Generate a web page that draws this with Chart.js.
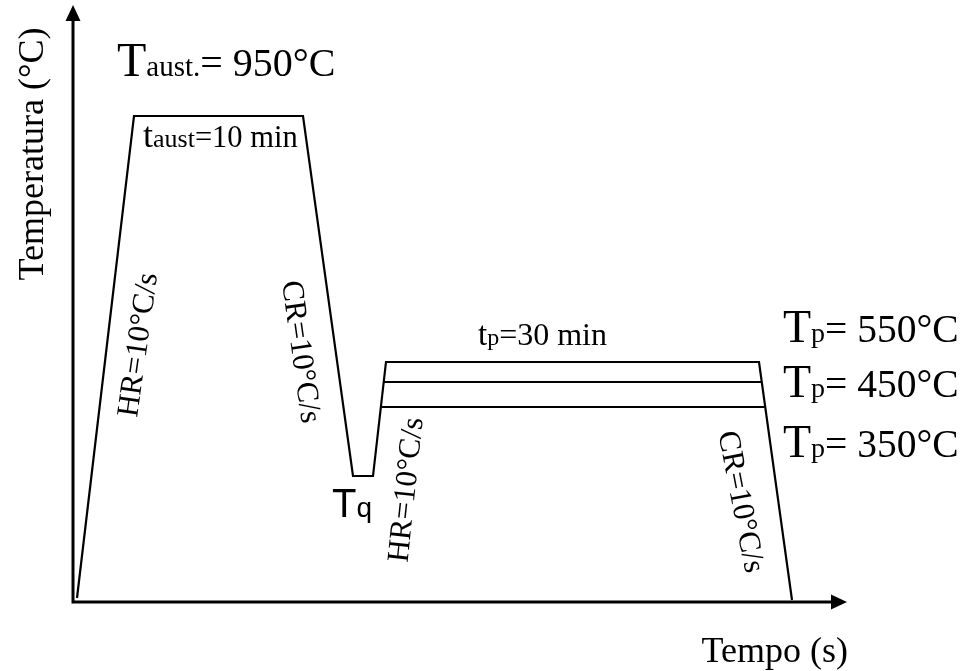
<!DOCTYPE html>
<html>
<head>
<meta charset="utf-8">
<script src="https://cdn.jsdelivr.net/npm/chart.js@4"></script>
<style>
  html, body { margin: 0; padding: 0; background: #fff; }
  canvas { display: block; }
</style>
</head>
<body>
<canvas id="chart" width="966" height="671"></canvas>
<script>
// schematic units: time and temperature positions on the sketch (no real scale)
const profileTime = [4, 61, 230, 280, 300, 313, 686, 719];
const profileTemp = [4, 486, 486, 126, 126, 240, 240, 2];
const hold450Time = [311, 689];
const hold450Temp = [220, 220];
const hold350Time = [308, 692];
const hold350Temp = [195, 195];

const axisMax = { x: 774, y: 597 };

const serif = "'Liberation Serif', 'Times New Roman', serif";
const sans = "'Liberation Sans', Arial, sans-serif";

// text pieces: [text, size]
const flatLabels = [
    { x: 44, y: 526, font: serif, runs: [["T", 48], ["aust.", 29], ["= 950°C", 40]] },
    { x: 70, y: 455, font: serif, runs: [["t", 36], ["aust", 26], ["=10 min", 30.5]] },
    { x: 405, y: 257, font: serif, runs: [["t", 33], ["p", 24], ["=30 min", 32]] },
    { x: 710, y: 260, font: serif, runs: [["T", 46], ["p", 28], ["= 550°C", 39.5]] },
    { x: 710, y: 205, font: serif, runs: [["T", 46], ["p", 28], ["= 450°C", 39.5]] },
    { x: 710, y: 145, font: serif, runs: [["T", 46], ["p", 28], ["= 350°C", 39.5]] },
    { x: 259, y: 85, font: sans, runs: [["T", 40], ["q", 28]] },
];

const rateLabels = [
    { x: 66, y: 257, angle: -82, text: "HR=10°C/s" },
    { x: 227, y: 250, angle: 82, text: "CR=10°C/s" },
    { x: 334, y: 112, angle: -84, text: "HR=10°C/s" },
    { x: 667, y: 100, angle: 79, text: "CR=10°C/s" },
];

function toPoints(xs, ys) {
    return xs.map((x, i) => ({ x: x, y: ys[i] }));
}

const sketchPlugin = {
    id: "sketch",
    afterDraw(chart) {
        const ctx = chart.ctx;
        const xs = chart.scales.x;
        const ys = chart.scales.y;
        const x0 = xs.getPixelForValue(0);
        const y0 = ys.getPixelForValue(0);
        const xEnd = xs.getPixelForValue(axisMax.x);
        const yEnd = ys.getPixelForValue(axisMax.y);

        ctx.save();
        ctx.fillStyle = "#000";
        ctx.strokeStyle = "#000";
        ctx.lineWidth = 3;

        // axes with arrow heads
        ctx.beginPath();
        ctx.moveTo(x0, y0);
        ctx.lineTo(xEnd - 12, y0);
        ctx.moveTo(x0, y0 + 1.5);
        ctx.lineTo(x0, yEnd + 12);
        ctx.stroke();

        ctx.beginPath();
        ctx.moveTo(xEnd, y0);
        ctx.lineTo(xEnd - 16, y0 - 7.5);
        ctx.lineTo(xEnd - 16, y0 + 7.5);
        ctx.closePath();
        ctx.fill();

        ctx.beginPath();
        ctx.moveTo(x0, yEnd);
        ctx.lineTo(x0 - 7.5, yEnd + 16);
        ctx.lineTo(x0 + 7.5, yEnd + 16);
        ctx.closePath();
        ctx.fill();

        // labels with subscripts
        ctx.textBaseline = "alphabetic";
        ctx.textAlign = "left";
        flatLabels.forEach(l => {
            let px = xs.getPixelForValue(l.x);
            const py = ys.getPixelForValue(l.y);
            l.runs.forEach(r => {
                ctx.font = r[1] + "px " + l.font;
                ctx.fillText(r[0], px, py);
                px += ctx.measureText(r[0]).width;
            });
        });

        // rates along the ramps
        ctx.font = "31px " + serif;
        ctx.textAlign = "center";
        ctx.textBaseline = "middle";
        rateLabels.forEach(l => {
            ctx.save();
            ctx.translate(xs.getPixelForValue(l.x), ys.getPixelForValue(l.y));
            ctx.rotate(l.angle * Math.PI / 180);
            ctx.fillText(l.text, 0, 0);
            ctx.restore();
        });

        // axis titles
        ctx.font = "36px " + serif;
        ctx.save();
        ctx.translate(x0 - 40, ys.getPixelForValue(448));
        ctx.rotate(-Math.PI / 2);
        ctx.textAlign = "center";
        ctx.textBaseline = "alphabetic";
        ctx.fillText("Temperatura (°C)", 0, 10);
        ctx.restore();

        ctx.textAlign = "right";
        ctx.textBaseline = "alphabetic";
        ctx.fillText("Tempo (s)", xEnd + 1, y0 + 60);

        ctx.restore();
    }
};

const lineStyle = {
    borderColor: "#000",
    borderWidth: 2.2,
    pointRadius: 0,
    fill: false,
    tension: 0,
    borderJoinStyle: "miter",
    clip: false,
};

new Chart(document.getElementById("chart"), {
    type: "line",
    data: {
        datasets: [
            Object.assign({ label: "Tp 550", data: toPoints(profileTime, profileTemp) }, lineStyle),
            Object.assign({ label: "Tp 450", data: toPoints(hold450Time, hold450Temp) }, lineStyle),
            Object.assign({ label: "Tp 350", data: toPoints(hold350Time, hold350Temp) }, lineStyle),
        ],
    },
    options: {
        responsive: false,
        animation: false,
        devicePixelRatio: 1,
        layout: { padding: { left: 73, right: 119, top: 5, bottom: 69 } },
        plugins: { legend: { display: false }, tooltip: { enabled: false } },
        scales: {
            x: { type: "linear", min: 0, max: axisMax.x, display: false },
            y: { type: "linear", min: 0, max: axisMax.y, display: false },
        },
    },
    plugins: [sketchPlugin],
});
</script>
</body>
</html>
